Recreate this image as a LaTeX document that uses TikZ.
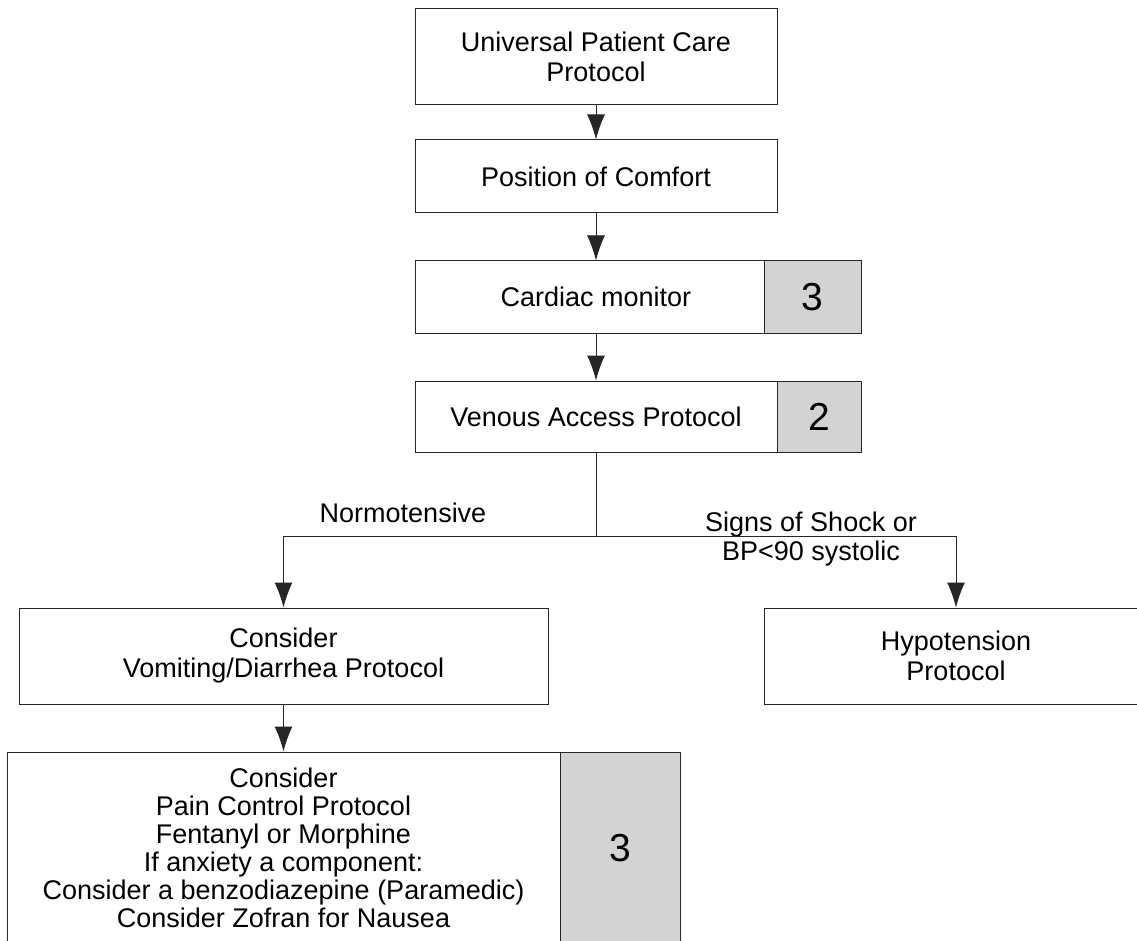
\documentclass[tikz,border=0pt]{standalone}
\usepackage{fontspec}
\setmainfont{Liberation Sans}
\usepackage{tikz}
\usetikzlibrary{positioning}
\usetikzlibrary{arrows.meta}
\definecolor{levelgray}{RGB}{211,211,211}
\tikzset{
  stepbox/.style={draw=black!85, line width=1pt, fill=white, align=center, inner sep=0pt,
    font=\fontsize{27}{30}\selectfont},
  levelbox/.style={draw=black!85, line width=1pt, fill=levelgray, inner sep=0pt,
    font=\fontsize{39}{39}\selectfont},
  flow/.style={draw=black!85, line width=1pt, -{Latex[length=25pt,width=18pt]}},
  branchlbl/.style={align=center, anchor=base, inner sep=0pt, font=\fontsize{27}{29}\selectfont}
}
\begin{document}
\begin{tikzpicture}[x=1pt,y=-1pt]
\clip (0,0) rectangle (1137,941);
\fill[white] (0,0) rectangle (1137,941);
\node[stepbox, minimum width=362pt, minimum height=96pt] (upc) at (596,57)
{Universal Patient Care\\Protocol};
\node[stepbox, minimum width=362pt, minimum height=73pt] (comfort) at (596,176.5)
{Position of Comfort};
\node[stepbox, minimum width=362pt, minimum height=72pt] (cardiac) at (596,297)
{Cardiac monitor};
\node[levelbox, minimum width=97pt, minimum height=72pt] (cardiaclvl) at (812.5,297) {3};
\node[stepbox, minimum width=362pt, minimum height=71pt] (venous) at (596,416.5)
{Venous Access Protocol};
\node[levelbox, minimum width=84pt, minimum height=71pt] (venouslvl) at (819,416.5) {2};
\coordinate (split) at (596,536);
\node[stepbox, minimum width=529pt, minimum height=96pt] (vomit) at (283.5,656)
{Consider\\Vomiting/Diarrhea Protocol};
\node[stepbox, minimum width=384pt, minimum height=96pt] (hypo) at (956,656)
{Hypotension\\Protocol};
\node[stepbox, minimum width=553pt, minimum height=192pt, font=\fontsize{27}{28}\selectfont] (pain) at (283.5,848)
{Consider\\Pain Control Protocol\\Fentanyl or Morphine\\If anxiety a component:\\Consider a benzodiazepine (Paramedic)\\Consider Zofran for Nausea};
\node[levelbox, minimum width=120pt, minimum height=192pt] (painlvl) at (620,848) {3};
\node[branchlbl] (normlbl) at (403,522) {Normotensive};
\node[branchlbl] (shocklbl) at (811,560) {Signs of Shock or\\BP<90 systolic};
\draw[flow] (upc) -- (comfort);
\draw[flow] (comfort) -- (cardiac);
\draw[flow] (cardiac) -- (venous);
\draw[draw=black!85, line width=1pt] (venous.south) -- (split);
\draw[flow] (split) -| (vomit.north);
\draw[flow] (split) -| (hypo.north);
\draw[flow] (vomit) -- (pain.north);
\end{tikzpicture}
\end{document}
